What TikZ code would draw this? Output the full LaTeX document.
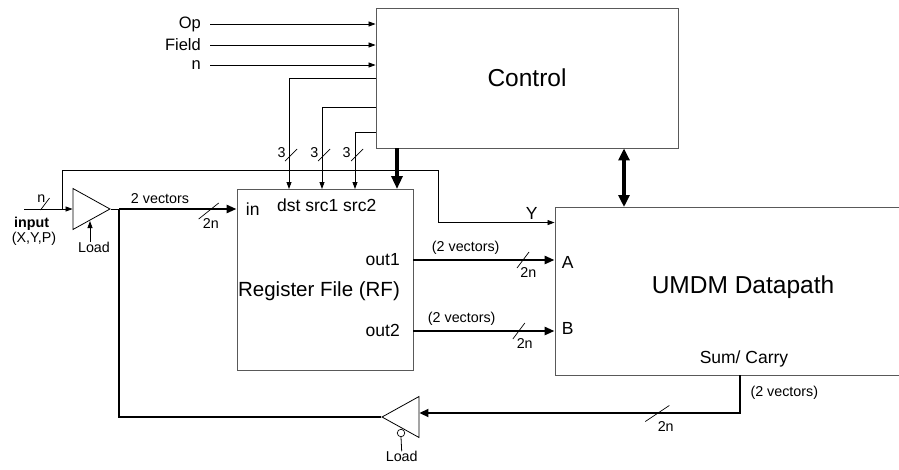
\documentclass[tikz,border=0pt]{standalone}
\usepackage{fontspec}
\setmainfont{Liberation Sans}
\usetikzlibrary{arrows.meta, shapes.geometric}
\tikzset{
  block/.style={draw=black!65, line width=0.9pt, rectangle, fill=white},
  wire/.style={line width=0.8pt},
  sig/.style={line width=0.8pt, -{Triangle[length=7pt,width=5pt]}},
  bus/.style={line width=2.6pt, -{Triangle[length=10pt,width=8pt]}},
  fbbus/.style={line width=1.8pt, -{Triangle[length=9pt,width=8pt]}},
  ctlbus/.style={line width=3.2pt, -{Triangle[length=13pt,width=11pt]}},
  dualbus/.style={line width=3.2pt, {Triangle[length=12pt,width=11pt]}-{Triangle[length=12pt,width=11pt]}},
  buffer/.style={draw, isosceles triangle, isosceles triangle stretches, line width=0.8pt, minimum width=41pt, minimum height=37pt, inner sep=0pt, fill=white},
  pics/busmark/.style args={#1/#2}{code={\draw[line width=0.7pt] (-#1,#2) -- (#1,-#2);}},
  lbig/.style={font=\fontsize{24.5}{28}\selectfont},
  lmid/.style={font=\fontsize{20.5}{24}\selectfont},
  lport/.style={font=\fontsize{17.5}{20}\selectfont},
  lin/.style={font=\fontsize{16.5}{19}\selectfont},
  lsmall/.style={font=\fontsize{14.3}{17}\selectfont}
}

\begin{document}
\begin{tikzpicture}[x=1pt, y=-1pt, every node/.style={inner sep=0pt}]
\useasboundingbox (0,0) rectangle (899,469);
\node[block, lbig, minimum width=302pt, minimum height=140pt] (ctrl) at (527,78) {Control};
\node[block, minimum width=176pt, minimum height=181pt] (rf) at (325,279.5) {};
\node[block, fill=none, minimum width=460pt, minimum height=168pt] (dp) at (785,291) {};
\node[lmid] (rfname) at (319,291.5) {Register File (RF)};
\node[lport] (rfin) at (252.7,209.3) {in};
\node[lport] (rfsel) at (326.7,205) {dst src1 src2};
\node[lport, anchor=east] (rfout1) at (400,260) {out1};
\node[lport, anchor=east] (rfout2) at (400,330) {out2};
\node[lbig] (dpname) at (743,287) {UMDM Datapath};
\node[lport] (dpa) at (567.7,262.7) {A};
\node[lport] (dpb) at (567.7,328.3) {B};
\node[lport] (dpy) at (531.7,213.3) {Y};
\node[lport] (dpsum) at (744,359) {Sum/ Carry};
\node[buffer, anchor=apex] (inbuf) at (111,209) {};
\node[buffer, shape border rotate=180, anchor=apex] (fbbuf) at (381,417) {};
\node[circle, draw, line width=0.7pt, minimum size=7.5pt, fill=white] (bub) at (401,433) {};
\node[lsmall] (fbload) at (401.7,456.7) {Load};
\node[lsmall] (inload) at (94,247.3) {Load};
\node[lsmall] (inlab) at (31.7,223.3) {\bfseries input};
\node[lsmall] (inxyp) at (34,239) {(X,Y,P)};
\node[lsmall] (inn) at (41.3,198.8) {n};
\node[lsmall] (vec0) at (160,198.5) {2 vectors};
\node[lsmall] (vec1) at (465.7,247.7) {(2 vectors)};
\node[lsmall] (vec2) at (461.7,318.3) {(2 vectors)};
\node[lsmall] (vec3) at (784.3,392.3) {(2 vectors)};
\node[lsmall] (w0) at (210.8,223.8) {2n};
\node[lsmall] (w1) at (528.3,272.5) {2n};
\node[lsmall] (w2) at (524.7,343.3) {2n};
\node[lsmall] (w3) at (665.7,426) {2n};
\node[lsmall] (k1) at (281.7,152.7) {3};
\node[lsmall] (k2) at (314.3,152.7) {3};
\node[lsmall] (k3) at (346.7,152.7) {3};
\node[lin, anchor=east] (opl) at (201,24) {Op};
\node[lin, anchor=east] (fieldl) at (201,45) {Field};
\node[lin, anchor=east] (nl) at (201,65) {n};

\coordinate (inp) at (24,209);
\coordinate (inbr) at (62,209);
\coordinate (yturn) at (438,170);
\coordinate (jn) at (119,209);
\coordinate (inld) at (90,221);
\coordinate (rfdst) at (289,189);
\coordinate (rfsrc1) at (322,189);
\coordinate (rfsrc2) at (355,189);
\coordinate (rfctl) at (397,189);
\coordinate (dpctl) at (624,207);
\coordinate (dpsumout) at (740,375);

\draw[sig] ([xshift=9pt]opl.east) -- (ctrl.west |- opl.east);
\draw[sig] ([xshift=9pt]fieldl.east) -- (ctrl.west |- fieldl.east);
\draw[sig] ([xshift=9pt]nl.east) -- (ctrl.west |- nl.east);
\draw[sig] (ctrl.west) -| (rfdst);
\draw[sig] ([yshift=-29pt]ctrl.west) -| (rfsrc1);
\draw[sig] ([yshift=-54pt]ctrl.west) -| (rfsrc2);
\pic at (291,155) {busmark=6/6};
\pic at (324,155) {busmark=6/6};
\pic at (357,155) {busmark=6/6};
\draw[ctlbus] (ctrl.south -| rfctl) -- (rfctl);
\draw[dualbus] (ctrl.south -| dpctl) -- (dpctl);
\draw[sig] (inp) -- (inbuf.west);
\pic at (45,204) {busmark=4.5/6};
\draw[sig] (inbr) |- (yturn) |- ([yshift=-16pt]dp.north west);
\draw[sig] (inload.north -| inld) -- (inld);
\draw[wire] (inbuf.apex) -- (jn);
\draw[bus] (jn) -- (rf.west |- jn);
\pic at (208.7,211) {busmark=10/8};
\draw[bus] (rf.east |- rfout1) -- (dp.west |- rfout1);
\pic at (523,260) {busmark=6/8};
\draw[bus] (rf.east |- 0,331) -- (dp.west |- 0,331);
\pic at (518.8,331) {busmark=6/8};
\draw[fbbus] (dpsumout) |- ([yshift=4pt]fbbuf.east);
\pic at (657.3,413.5) {busmark=12/8};
\draw[line width=2.8pt] (fbbuf.apex) -| (jn);
\draw[wire] (bub.south) -- (fbload.north);
\end{tikzpicture}
\end{document}
